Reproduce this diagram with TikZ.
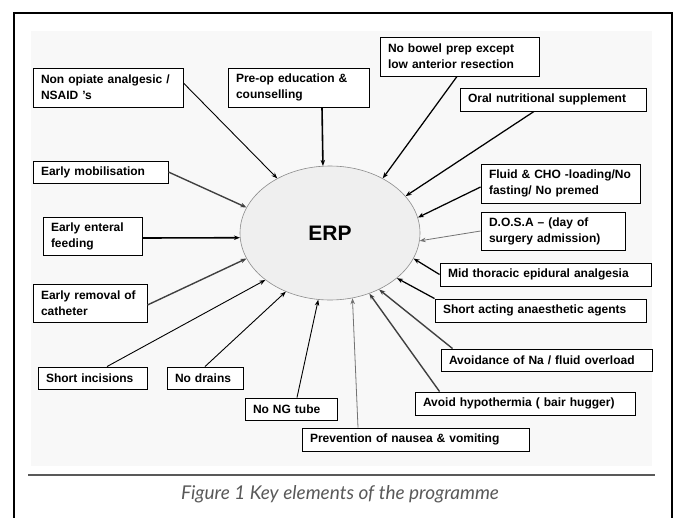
\documentclass[tikz,border=0pt]{standalone}
\usepackage{fontspec}
\setmainfont{Liberation Sans}
\newfontfamily\capfont{Lato}
\usetikzlibrary{shapes.geometric,arrows.meta,calc}
\definecolor{panel}{HTML}{F8F8F8}
\definecolor{ellfill}{HTML}{EFEFEF}
\tikzset{
  box/.style={draw=black, line width=0.9pt, fill=white, rectangle, inner xsep=8pt, inner ysep=0pt,
    align=left, anchor=center, font=\fontsize{12}{16}\selectfont\bfseries},
  arr/.style={-{Stealth[length=6pt,width=4.5pt]}, draw=black, line width=1.1pt},
  thk/.style={arr, line width=1.6pt},
  med/.style={arr, line width=1.25pt},
  thn/.style={arr, line width=0.9pt},
  gry/.style={arr, draw=black!55, line width=0.8pt},
  dbl/.style={arr, draw=black!75, line width=1.4pt}
}
\begin{document}
\begin{tikzpicture}[x=1pt,y=-1pt]
\useasboundingbox (0,0) rectangle (677,517);
\fill[white] (0,0) rectangle (677,517);
% outer frame
\draw[line width=1.8pt] (14,530) -- (14,13) -- (672,13) -- (672,530);
% panel
\fill[panel] (31,31) rectangle (652,466);
% separator
\draw[line width=1.3pt, black!65] (28,475) -- (655,475);
% caption
\node[font=\capfont\itshape\fontsize{19}{22}\selectfont, text=black!65] (cap) at (340,494) {Figure 1 Key elements of the programme};

% centre
\node[ellipse, draw=black!45, line width=0.6pt, fill=ellfill, minimum width=180pt, minimum height=134pt, inner sep=0pt,
  font=\fontsize{21}{24}\selectfont\bfseries] (erp) at (330,233) {ERP};

% boxes
\node[box, text width=134pt, minimum height=39pt] (nonop) at (108,87.5) {Non opiate analgesic /\\NSAID 's};
\node[box, text width=125pt, minimum height=39pt] (preop) at (298.5,87.5) {Pre-op education \&\\counselling};
\node[box, text width=143pt, minimum height=39pt] (bowel) at (459.5,56.5) {No bowel prep except\\low anterior resection};
\node[box, text width=170pt, minimum height=23pt] (oral) at (553,99.5) {Oral nutritional supplement};
\node[box, text width=119pt, minimum height=22pt] (mobil) at (100.5,172) {Early mobilisation};
\node[box, text width=143pt, minimum height=39pt] (fluid) at (560.5,183.5) {Fluid \& CHO -loading/No\\fasting/ No premed};
\node[box, text width=83pt, minimum height=38pt] (enteral) at (92.5,236) {Early enteral\\feeding};
\node[box, text width=128pt, minimum height=38pt] (dosa) at (553,231) {D.O.S.A -- (day of\\surgery admission)};
\node[box, text width=98pt, minimum height=38pt] (removal) at (90,303) {Early removal of\\catheter};
\node[box, text width=195pt, minimum height=23pt] (mid) at (545.5,274.5) {Mid thoracic epidural analgesia};
\node[box, text width=195pt, minimum height=23pt] (shortact) at (540.5,310.5) {Short acting anaesthetic agents};
\node[box, text width=195pt, minimum height=22pt] (avoid) at (546.5,360) {Avoidance of Na / fluid overload};
\node[box, text width=204pt, minimum height=23pt] (hypo) at (525,403.5) {Avoid hypothermia (~bair hugger)};
\node[box, text width=211pt, minimum height=23pt] (prev) at (415.5,439.5) {Prevention of nausea \& vomiting};
\node[box, text width=76pt, minimum height=22pt] (ng) at (291,409) {No NG tube};
\node[box, text width=60pt, minimum height=22pt] (drains) at (205,378) {No drains};
\node[box, text width=93pt, minimum height=22pt] (inc) at (92.5,378) {Short incisions};

% connectors
\draw[thn] ($(nonop.east)+(0,-4.5)$) -- (erp.134.5);
\draw[thk] ($(preop.south)+(23.5,0)$) -- (erp.96.5);
\draw[med] ($(bowel.south)+(-2.5,0)$) -- (erp.46);
\draw[med] ($(oral.south)+(-19,0)$) -- (erp.26);
\draw[dbl] (mobil.east) -- (erp.163);
\draw[med] ($(fluid.west)+(0,3.5)$) -- (erp.10);
\draw[gry] (dosa.west) -- (erp.-5.6);
\draw[med] (mid.west) -- (erp.-17.4);
\draw[med] (shortact.north west) -- (erp.-34.3);
\draw[dbl] ($(avoid.north west)+(12,0)$) -- (erp.-49.8);
\draw[dbl] ($(hypo.north west)+(25,0)$) -- (erp.-57.8);
\draw[gry] ($(prev.north)+(-57.5,0)$) -- (erp.-71);
\draw[thn] ($(ng.north)+(6,0)$) -- (erp.-100.8);
\draw[thn] (drains.north) -- (erp.-127.2);
\draw[thn] ($(inc.north)+(14.5,0)$) -- (erp.-144.1);
\draw[dbl] ($(removal.east)+(0,2)$) -- (erp.-163);
\draw[thk] ($(enteral.east)+(0,2)$) -- (erp.-177);
\end{tikzpicture}
\end{document}
